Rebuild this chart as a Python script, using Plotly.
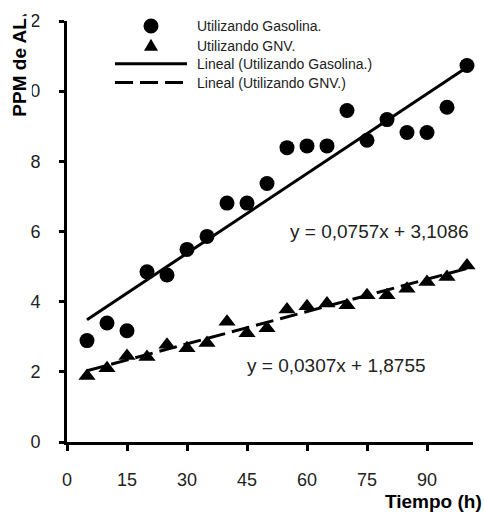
import plotly.graph_objects as go

# ---- data ----
tiempo = [5, 10, 15, 20, 25, 30, 35, 40, 45, 50, 55, 60, 65, 70, 75, 80, 85, 90, 95, 100]
gasolina = [2.89, 3.39, 3.17, 4.85, 4.76, 5.49, 5.86, 6.81, 6.81, 7.37,
            8.39, 8.44, 8.44, 9.45, 8.60, 9.19, 8.82, 8.82, 9.54, 10.73]
gnv = [1.88, 2.10, 2.45, 2.42, 2.77, 2.67, 2.82, 3.43, 3.10, 3.24,
       3.78, 3.87, 3.95, 3.90, 4.18, 4.18, 4.37, 4.56, 4.70, 5.03]
slope_gas, icpt_gas = 0.0757, 3.1086
slope_gnv, icpt_gnv = 0.0307, 1.8755
x_ticks = [0, 15, 30, 45, 60, 75, 90]
y_ticks = [0, 2, 4, 6, 8, 10, 12]
legend_labels = ["Utilizando Gasolina.", "Utilizando GNV.",
                 "Lineal (Utilizando Gasolina.)", "Lineal (Utilizando GNV.)"]

NARROW = "Liberation Sans Narrow, Arial Narrow, Liberation Sans, sans-serif"
REG = "Liberation Sans, Arial, sans-serif"
BOLD = "Liberation Sans, Arial, sans-serif"
DASH = "18px,7px"
TXT = "#222"

W, H = 484, 512
ML, MR, MT, MB = 67, 11, 18, 70
PW, PH = W - ML - MR, H - MT - MB


def px(xp):
    return (xp - ML) / PW


def py(yp):
    return (H - MB - yp) / PH


fit_gas = [slope_gas * t + icpt_gas for t in tiempo]
fit_gnv = [slope_gnv * t + icpt_gnv for t in tiempo]

fig = go.Figure()
fig.add_trace(go.Scatter(x=[tiempo[0], tiempo[-1]], y=[fit_gas[0], fit_gas[-1]], mode="lines",
                         line=dict(color="black", width=3), showlegend=False))
fig.add_trace(go.Scatter(x=[tiempo[0], tiempo[-1]], y=[fit_gnv[0], fit_gnv[-1]], mode="lines",
                         line=dict(color="black", width=3, dash=DASH), showlegend=False))
fig.add_trace(go.Scatter(x=tiempo, y=gasolina, mode="markers", cliponaxis=False,
                         marker=dict(symbol="circle", size=15, color="black"), showlegend=False))
fig.add_trace(go.Scatter(x=tiempo, y=gnv, mode="markers", cliponaxis=False,
                         marker=dict(symbol="triangle-up", size=15, color="black"), showlegend=False))

# ---- manual legend (shapes + annotations in paper space) ----
leg_rows = [23, 43, 61, 80]
leg_cx, leg_x0, leg_x1, leg_tx = 151, 115, 187, 195
shapes = [
    dict(type="circle", xref="paper", yref="paper", xsizemode="pixel", ysizemode="pixel",
         xanchor=px(leg_cx), yanchor=py(leg_rows[0]), x0=-7.5, x1=7.5, y0=-7.5, y1=7.5,
         fillcolor="black", line=dict(width=0)),
    dict(type="path", xref="paper", yref="paper", xsizemode="pixel", ysizemode="pixel",
         xanchor=px(leg_cx), yanchor=py(leg_rows[1]), path="M-7,-5 L7,-5 L0,7 Z",
         fillcolor="black", line=dict(width=0)),
    dict(type="line", xref="paper", yref="paper", x0=px(leg_x0), x1=px(leg_x1),
         y0=py(leg_rows[2]), y1=py(leg_rows[2]), line=dict(color="black", width=3)),
    dict(type="line", xref="paper", yref="paper", x0=px(leg_x0), x1=px(leg_x1),
         y0=py(leg_rows[3]), y1=py(leg_rows[3]), line=dict(color="black", width=3, dash=DASH)),
]

annotations = []
for lab, ry in zip(legend_labels, leg_rows):
    annotations.append(dict(x=px(leg_tx), y=py(ry), xref="paper", yref="paper", text=lab, showarrow=False,
                            xanchor="left", yanchor="middle",
                            font=dict(family=NARROW, size=14, color=TXT)))

annotations += [
    dict(x=px(288), y=py(230), xref="paper", yref="paper", xanchor="left", yanchor="middle",
         text="y = 0,0757x + 3,1086", showarrow=False, font=dict(family=REG, size=19, color=TXT)),
    dict(x=px(245), y=py(365), xref="paper", yref="paper", xanchor="left", yanchor="middle",
         text="y = 0,0307x + 1,8755", showarrow=False, font=dict(family=REG, size=19, color=TXT)),
    dict(x=px(484), y=py(502), xref="paper", yref="paper", xanchor="right", yanchor="middle",
         text="<b>Tiempo (h)</b>", showarrow=False, font=dict(family=BOLD, size=19, color="black")),
    dict(x=px(20), y=py(65), xref="paper", yref="paper", xanchor="center", yanchor="middle",
         text="<b>PPM de AL</b>", textangle=-90, showarrow=False, bgcolor="white",
         font=dict(family=BOLD, size=19, color="black")),
]

PAD = "\u00a0\u00a0\u00a0"
fig.update_layout(
    width=W, height=H,
    margin=dict(l=ML, r=MR, t=MT, b=MB),
    paper_bgcolor="white", plot_bgcolor="white",
    showlegend=False,
    xaxis=dict(range=[0, 101.5], tickvals=x_ticks, ticktext=[str(v) for v in x_ticks],
               showgrid=False, zeroline=False, showline=True, linecolor="black", linewidth=3,
               ticks="outside", ticklen=6, tickwidth=3, tickcolor="black", ticklabelstandoff=13,
               tickfont=dict(family=REG, size=18, color=TXT)),
    yaxis=dict(range=[0, 12], tickvals=y_ticks, ticktext=[f"{v}{PAD}" for v in y_ticks],
               showgrid=False, zeroline=False, showline=True, linecolor="black", linewidth=3,
               ticks="outside", ticklen=5, tickwidth=3, tickcolor="black",
               tickfont=dict(family=REG, size=18, color=TXT)),
    shapes=shapes,
    annotations=annotations,
)

fig.write_html("out.html")
